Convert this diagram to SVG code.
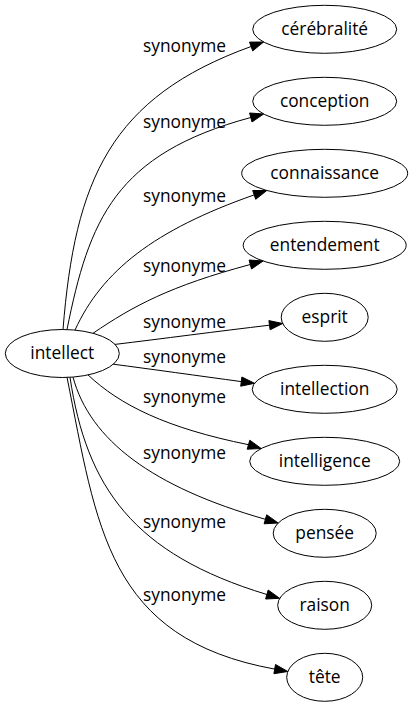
<svg xmlns="http://www.w3.org/2000/svg" width="413" height="707" viewBox="0 0 413 707">
<style>
text{font-family:"Open Sans","Noto Sans","DejaVu Sans",sans-serif;font-size:17.33px;fill:#000;text-anchor:middle}
ellipse{fill:none;stroke:#000;stroke-width:1}
.e path{fill:none;stroke:#000;stroke-width:1}
.e polygon{fill:#000;stroke:#000;stroke-width:1}
</style>
<rect width="413" height="707" fill="#fff"/>
<g class="e" id="edges">
<path d="M63,329.5 C75,180 110,97.5 251.1,46.5"/><polygon points="263.6,42 252.7,50.9 249.5,42.1"/>
<text x="184.5" y="51.7">synonyme</text>
<path d="M67,329.6 C89,220 115,154 250.8,117.5"/><polygon points="263.6,114 252,122 249.6,113"/>
<text x="184.5" y="128.3">synonyme</text>
<path d="M75,330.1 C102,271 154,230 254.2,194.9"/><polygon points="266.8,190.5 255.7,199.3 252.7,190.5"/>
<text x="184.5" y="201.7">synonyme</text>
<path d="M93,333.3 C133,306 170,286 250.3,264.5"/><polygon points="263.1,261 251.5,269 249.1,260"/>
<text x="184.5" y="271.7">synonyme</text>
<path d="M115,344.4 C160,339 220,331 269.5,325.2"/><polygon points="282.7,323.5 270.1,329.8 268.9,320.6"/>
<text x="184.5" y="328">synonyme</text>
<path d="M113.3,364.2 C150,369 200,376 241.3,381.6"/><polygon points="254.5,383.3 240.7,386.2 241.9,377"/>
<text x="184.5" y="363">synonyme</text>
<path d="M88,374.9 C120,405 166,428 248.5,444.7"/><polygon points="261.2,448.5 247.2,449.2 249.8,440.2"/>
<text x="184.5" y="403">synonyme</text>
<path d="M73,377.1 C90,440 152,487 265.4,519.3"/><polygon points="278.2,523 264.1,523.8 266.7,514.8"/>
<text x="184.5" y="459">synonyme</text>
<path d="M70,377.3 C86.5,487 133,554 266.9,594.5"/><polygon points="279.6,598.3 265.6,599 268.2,590"/>
<text x="184.5" y="528">synonyme</text>
<path d="M67,377.2 C97,527 107,638.5 274.7,669.1"/><polygon points="287.8,671.5 273.9,673.7 275.5,664.5"/>
<text x="184.5" y="600.5">synonyme</text>
</g>
<g id="intellect"><ellipse cx="62.3" cy="353.5" rx="57" ry="24"/><text x="62.3" y="359">intellect</text></g>
<g id="cerebralite"><ellipse cx="324.7" cy="29.3" rx="72" ry="24"/><text x="324.7" y="34.8">cérébralité</text></g>
<g id="conception"><ellipse cx="324.7" cy="101.3" rx="72" ry="24"/><text x="324.7" y="106.8">conception</text></g>
<g id="connaissance"><ellipse cx="324.7" cy="173.3" rx="83" ry="24"/><text x="324.7" y="178.8">connaissance</text></g>
<g id="entendement"><ellipse cx="324.7" cy="245.3" rx="81.5" ry="24"/><text x="324.7" y="250.8">entendement</text></g>
<g id="esprit"><ellipse cx="324.7" cy="317.3" rx="43.5" ry="24"/><text x="324.7" y="322.8">esprit</text></g>
<g id="intellection"><ellipse cx="324.7" cy="389.3" rx="72.5" ry="24"/><text x="324.7" y="394.8">intellection</text></g>
<g id="intelligence"><ellipse cx="324.7" cy="461.3" rx="75" ry="24"/><text x="324.7" y="466.8">intelligence</text></g>
<g id="pensee"><ellipse cx="324.7" cy="533.3" rx="51.5" ry="24"/><text x="324.7" y="538.8">pensée</text></g>
<g id="raison"><ellipse cx="324.7" cy="605.3" rx="47" ry="24"/><text x="324.7" y="610.8">raison</text></g>
<g id="tete"><ellipse cx="324.7" cy="677.3" rx="38" ry="24"/><text x="324.7" y="682.8">tête</text></g>
</svg>
